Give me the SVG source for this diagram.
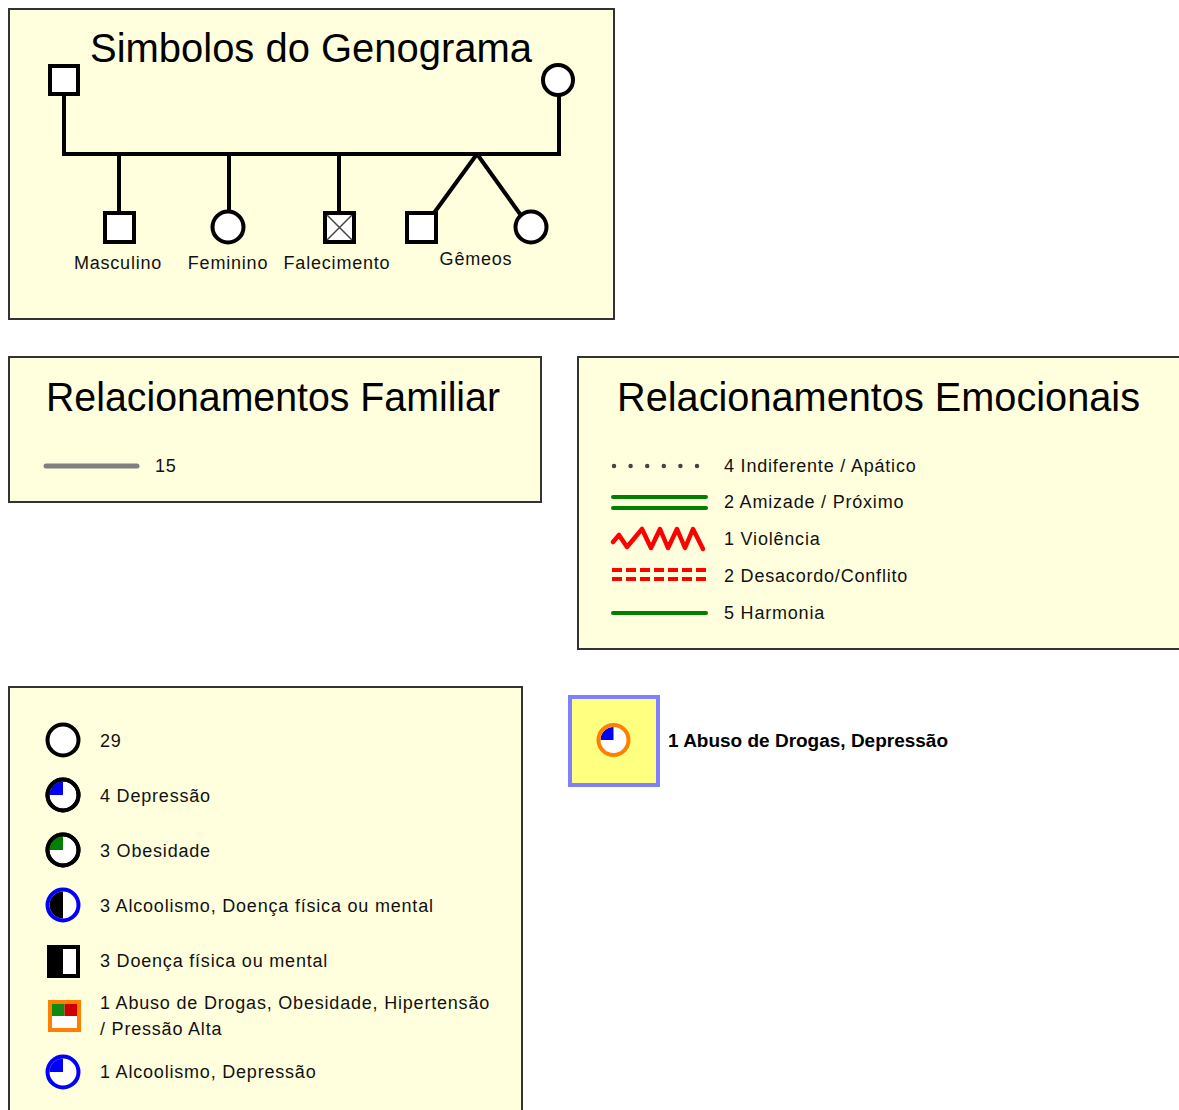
<svg xmlns="http://www.w3.org/2000/svg" width="1179" height="1110" viewBox="0 0 1179 1110">
<style>
.panel{fill:#ffffdd;stroke:#333;stroke-width:2}
.title{font-family:"Liberation Sans",Arial,sans-serif;font-size:40px;fill:#000}
.lbl{font-family:"Liberation Sans",Arial,sans-serif;font-size:18px;letter-spacing:0.8px;fill:#111}
.ped{stroke:#000;stroke-width:4;fill:none}
.shape{fill:#fff;stroke:#000;stroke-width:4}
</style>
<rect width="1179" height="1110" fill="#fff"/>

<g id="panel-simbolos">
<rect class="panel" x="9" y="9" width="605" height="310"/>
<text class="title" x="90" y="62" textLength="442" lengthAdjust="spacingAndGlyphs">Simbolos do Genograma</text>
</g>
<g id="connectors">
<polyline class="ped" points="64,94 64,154 559,154 559,95"/>
<line class="ped" x1="119" y1="154" x2="119" y2="213"/>
<line class="ped" x1="229" y1="154" x2="229" y2="212"/>
<line class="ped" x1="339" y1="154" x2="339" y2="213"/>
<line class="ped" x1="477" y1="154" x2="434" y2="213"/>
<line class="ped" x1="477" y1="154" x2="520" y2="214"/>
</g>
<g id="node-pai"><rect class="shape" x="50" y="66" width="28" height="28"/></g>
<g id="node-mae"><circle class="shape" cx="558" cy="80" r="15"/></g>
<g id="node-masculino"><rect class="shape" x="105" y="213" width="29" height="29"/><text class="lbl" x="118" y="269" text-anchor="middle">Masculino</text></g>
<g id="node-feminino"><circle class="shape" cx="228" cy="227" r="15.5"/><text class="lbl" x="228" y="269" text-anchor="middle">Feminino</text></g>
<g id="node-falecimento"><rect class="shape" x="325" y="213" width="29" height="29"/><path d="M327,215 L352,240 M352,215 L327,240" stroke="#444" stroke-width="1.5"/><text class="lbl" x="337" y="269" text-anchor="middle">Falecimento</text></g>
<g id="node-gemeo-m"><rect class="shape" x="407" y="213" width="29" height="29"/></g>
<g id="node-gemeo-f"><circle class="shape" cx="531" cy="227" r="15.5"/></g>
<g id="label-gemeos"><text class="lbl" x="476" y="265" text-anchor="middle">Gêmeos</text></g>

<g id="panel-familiar">
<rect class="panel" x="9" y="357" width="532" height="145"/>
<text class="title" x="46" y="411" textLength="454" lengthAdjust="spacingAndGlyphs">Relacionamentos Familiar</text>
<line x1="46" y1="466" x2="137" y2="466" stroke="#808080" stroke-width="5" stroke-linecap="round"/>
<text class="lbl" x="155" y="472">15</text>
</g>

<g id="panel-emocionais">
<rect class="panel" x="578" y="357" width="610" height="292"/>
<text class="title" x="617" y="411" textLength="523" lengthAdjust="spacingAndGlyphs">Relacionamentos Emocionais</text>
<line x1="614" y1="466" x2="698" y2="466" stroke="#444" stroke-width="4.5" stroke-linecap="round" stroke-dasharray="0 16.6"/>
<text class="lbl" x="724" y="472">4 Indiferente / Apático</text>
<g stroke="#008000" stroke-width="4" stroke-linecap="round"><line x1="613" y1="497" x2="706" y2="497"/><line x1="613" y1="508" x2="706" y2="508"/></g>
<text class="lbl" x="724" y="508">2 Amizade / Próximo</text>
<polyline points="613,542 619,535 627,547 642,529 651,548 660,529 668,548 677,529 685,548 693,529 703,549" fill="none" stroke="#ff0000" stroke-width="4.5" stroke-linejoin="round" stroke-linecap="round"/>
<text class="lbl" x="724" y="545">1 Violência</text>
<g stroke="#ff0000" stroke-width="4" stroke-dasharray="10 4"><line x1="612" y1="570" x2="710" y2="570"/><line x1="612" y1="579" x2="710" y2="579"/></g>
<text class="lbl" x="724" y="582">2 Desacordo/Conflito</text>
<line x1="613" y1="613" x2="706" y2="613" stroke="#008000" stroke-width="4" stroke-linecap="round"/>
<text class="lbl" x="724" y="619">5 Harmonia</text>
</g>

<g id="panel-legenda">
<rect class="panel" x="9" y="687" width="513" height="440"/>
<g id="leg-29"><circle class="shape" cx="63" cy="740" r="15.5"/><text class="lbl" x="100" y="747">29</text></g>
<g id="leg-depressao"><circle class="shape" cx="63" cy="795" r="15.5"/><path d="M63,795 L63,781.5 A13.5,13.5 0 0 0 49.5,795 Z" fill="#0000ff"/><circle cx="63" cy="795" r="15.5" fill="none" stroke="#000" stroke-width="4"/><text class="lbl" x="100" y="802">4 Depressão</text></g>
<g id="leg-obesidade"><circle class="shape" cx="63" cy="850" r="15.5"/><path d="M63,850 L63,836.5 A13.5,13.5 0 0 0 49.5,850 Z" fill="#008000"/><circle cx="63" cy="850" r="15.5" fill="none" stroke="#000" stroke-width="4"/><text class="lbl" x="100" y="857">3 Obesidade</text></g>
<g id="leg-alcoolismo"><circle cx="63" cy="905" r="15.5" fill="#fff"/><path d="M63,891.5 A13.5,13.5 0 0 0 63,918.5 Z" fill="#000"/><circle cx="63" cy="905" r="15.5" fill="none" stroke="#0000ff" stroke-width="4"/><text class="lbl" x="100" y="912">3 Alcoolismo, Doença física ou mental</text></g>
<g id="leg-doenca"><rect x="49" y="947" width="29" height="29" fill="#fff" stroke="#000" stroke-width="4"/><rect x="49" y="947" width="14" height="29" fill="#000"/><text class="lbl" x="100" y="967">3 Doença física ou mental</text></g>
<g id="leg-abuso"><rect x="50" y="1002" width="29" height="28" fill="#fff" stroke="#ff8000" stroke-width="4"/><rect x="52" y="1004" width="12.5" height="12" fill="#118811"/><rect x="64.5" y="1004" width="12.5" height="12" fill="#cc0000"/><text class="lbl" x="100" y="1009">1 Abuso de Drogas, Obesidade, Hipertensão</text><text class="lbl" x="100" y="1035">/ Pressão Alta</text></g>
<g id="leg-alcool-dep"><circle cx="63" cy="1072" r="15.5" fill="#fff"/><path d="M63,1072 L63,1058.5 A13.5,13.5 0 0 0 49.5,1072 Z" fill="#0000ff"/><circle cx="63" cy="1072" r="15.5" fill="none" stroke="#0000ff" stroke-width="4"/><text class="lbl" x="100" y="1078">1 Alcoolismo, Depressão</text></g>
</g>

<g id="node-destaque">
<rect x="570" y="697" width="88" height="88" fill="#ffff80" stroke="#8080ff" stroke-width="4"/>
<circle cx="613.5" cy="740" r="15" fill="#fff"/>
<path d="M613.5,740 L613.5,727 A13,13 0 0 0 600.5,740 Z" fill="#0000ff"/>
<circle cx="613.5" cy="740" r="15" fill="none" stroke="#ff8000" stroke-width="4"/>
<text x="668" y="747" font-family="'Liberation Sans',Arial,sans-serif" font-size="18" font-weight="bold" textLength="280" lengthAdjust="spacingAndGlyphs" fill="#000">1 Abuso de Drogas, Depressão</text>
</g>
</svg>
